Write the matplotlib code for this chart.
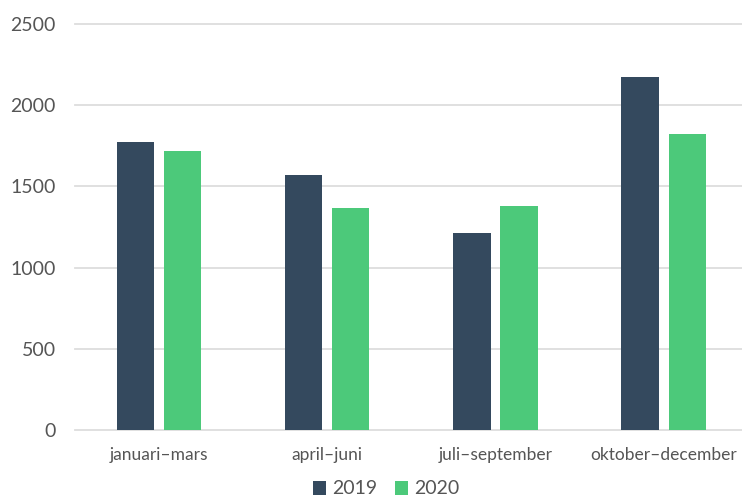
import matplotlib
matplotlib.use("Agg")
import matplotlib.pyplot as plt
import numpy as np

categories = ["januari–mars", "april–juni", "juli–september", "oktober–december"]
v2019 = [1775, 1570, 1213, 2175]
v2020 = [1716, 1367, 1381, 1821]

plt.rcParams['font.family'] = ['Lato', 'DejaVu Sans']
dark = "#34495E"
green = "#4CC97A"
txt = "#555555"

fig = plt.figure(figsize=(7.42, 4.96), dpi=100)
ax = fig.add_axes([75/742, 66/496, 667/742, 406/496])

x = np.arange(len(categories))
w = 0.222
off = 0.14
ax.bar(x - off, v2019, w, color=dark, label="2019", zorder=3)
ax.bar(x + off, v2020, w, color=green, label="2020", zorder=3)

ax.set_xlim(-0.5, 3.466)
ax.set_ylim(0, 2500)
ax.set_yticks([0, 500, 1000, 1500, 2000, 2500])
ax.set_xticks(x)
ax.set_xticklabels(categories)
ax.grid(axis="y", color="#dddddd", linewidth=1.3, zorder=0)
for gl in ax.get_ygridlines():
    gl.set_clip_on(False)
for s in ax.spines.values():
    s.set_visible(False)
ax.tick_params(axis="y", length=0, pad=14, labelsize=14, labelcolor=txt)
ax.tick_params(axis="x", length=0, pad=12, labelsize=12.5, labelcolor=txt)

leg = fig.legend(loc="center", bbox_to_anchor=(386/742, 1 - 489/496), ncol=2,
                 frameon=False, fontsize=14, handlelength=0.7, handleheight=0.7,
                 handletextpad=0.3, columnspacing=0.9, labelcolor=txt)

fig.savefig("out.png", dpi=100)
